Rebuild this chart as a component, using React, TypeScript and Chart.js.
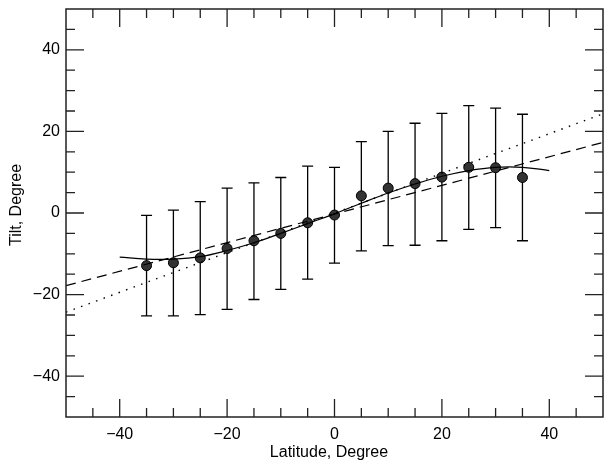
import React, { useEffect, useRef } from "react";
import { Chart, registerables } from "chart.js";

Chart.register(...registerables);

// ---- Data ----
const LATITUDES = [-35, -30, -25, -20, -15, -10, -5, 0, 5, 10, 15, 20, 25, 30, 35];
const TILTS = [-12.9, -12.2, -11.0, -8.7, -6.8, -5.0, -2.4, -0.5, 4.2, 6.1, 7.2, 8.8, 11.2, 11.1, 8.7];
const ERR_HIGH = [-0.6, 0.7, 2.8, 6.1, 7.4, 8.7, 11.5, 11.2, 17.5, 20.0, 22.0, 24.4, 26.3, 25.7, 24.2];
const ERR_LOW = [-25.2, -25.2, -24.9, -23.6, -21.2, -18.7, -16.2, -12.3, -9.3, -8.0, -7.9, -6.8, -4.0, -3.6, -6.8];

const CURVE_X = [-40, -35, -30, -25, -20, -15, -10, -5, 0, 5, 10, 15, 20, 25, 30, 35, 40];
const CURVE_Y = [-10.8, -11.3, -11.3, -10.7, -9.2, -7.3, -5.0, -2.6, -0.2, 2.4, 4.9, 7.1, 9.0, 10.4, 11.2, 11.2, 10.4];

const DASHED_X = [-50, 50];
const DASHED_Y = [-17.8, 17.3];
const DOTTED_X = [-50, 50];
const DOTTED_Y = [-24.3, 24.3];

const X_MAJOR = [-40, -20, 0, 20, 40];
const X_MINOR = [-45, -35, -30, -25, -15, -10, -5, 5, 10, 15, 25, 30, 35, 45];
const Y_MAJOR = [-40, -20, 0, 20, 40];
const Y_MINOR = [-45, -35, -30, -25, -15, -10, -5, 5, 10, 15, 25, 30, 35, 45];

const X_TITLE = "Latitude, Degree";
const Y_TITLE = "Tilt, Degree";

const FONT_FAMILY = "'Liberation Sans', Arial, Helvetica, sans-serif";
const AXIS_COLOR = "#222";

const fmt = (v: number) => (v < 0 ? "\u2212" + Math.abs(v) : String(v));

const pairs = (xs: number[], ys: number[]) => xs.map((x, i) => ({ x, y: ys[i] }));

const zeroPad = (s: any) => {
  s.paddingTop = 0;
  s.paddingBottom = 0;
  s.paddingLeft = 0;
  s.paddingRight = 0;
};

const decorPlugin = {
  id: "decor",
  beforeDatasetsDraw(chart: any) {
    const { ctx, scales } = chart;
    const xs = scales.x;
    const ys = scales.y;
    ctx.save();
    ctx.strokeStyle = "#000";
    ctx.lineWidth = 1.3;
    const cap = 5.5;
    LATITUDES.forEach((lat, i) => {
      const px = xs.getPixelForValue(lat);
      const top = ys.getPixelForValue(ERR_HIGH[i]);
      const bot = ys.getPixelForValue(ERR_LOW[i]);
      ctx.beginPath();
      ctx.moveTo(px, top);
      ctx.lineTo(px, bot);
      ctx.moveTo(px - cap, top);
      ctx.lineTo(px + cap, top);
      ctx.moveTo(px - cap, bot);
      ctx.lineTo(px + cap, bot);
      ctx.stroke();
    });
    ctx.restore();
  },
  afterDraw(chart: any) {
    const { ctx, chartArea, scales } = chart;
    const { left, right, top, bottom } = chartArea;
    const xs = scales.x;
    const ys = scales.y;
    ctx.save();
    ctx.strokeStyle = AXIS_COLOR;
    ctx.lineWidth = 1.5;
    ctx.strokeRect(left, top, right - left, bottom - top);
    ctx.lineWidth = 1.3;
    const major = 18;
    const minor = 9;
    ctx.beginPath();
    const xt = (vals: number[], len: number) => {
      vals.forEach((v) => {
        const p = xs.getPixelForValue(v);
        ctx.moveTo(p, bottom);
        ctx.lineTo(p, bottom - len);
        ctx.moveTo(p, top);
        ctx.lineTo(p, top + len);
      });
    };
    const yt = (vals: number[], len: number) => {
      vals.forEach((v) => {
        const p = ys.getPixelForValue(v);
        ctx.moveTo(left, p);
        ctx.lineTo(left + len, p);
        ctx.moveTo(right, p);
        ctx.lineTo(right - len, p);
      });
    };
    xt(X_MAJOR, major);
    xt(X_MINOR, minor);
    yt(Y_MAJOR, major);
    yt(Y_MINOR, minor);
    ctx.stroke();

    // Axis titles
    ctx.fillStyle = "#000";
    ctx.font = `16px ${FONT_FAMILY}`;
    ctx.textAlign = "center";
    ctx.textBaseline = "alphabetic";
    ctx.fillText(X_TITLE, 329, 457);
    ctx.translate(21, 205);
    ctx.rotate(-Math.PI / 2);
    ctx.fillText(Y_TITLE, 0, 0);
    ctx.restore();
  },
};

export default function App() {
  const ref = useRef<HTMLCanvasElement | null>(null);

  useEffect(() => {
    if (!ref.current) return;
    const chart = new Chart(ref.current, {
      type: "scatter",
      data: {
        datasets: [
          {
            label: "dotted",
            data: pairs(DOTTED_X, DOTTED_Y),
            showLine: true,
            borderColor: "#000",
            borderWidth: 1.4,
            borderDash: [1.5, 6.5],
            pointRadius: 0,
            fill: false,
          },
          {
            label: "dashed",
            data: pairs(DASHED_X, DASHED_Y),
            showLine: true,
            borderColor: "#000",
            borderWidth: 1.2,
            borderDash: [10, 6],
            pointRadius: 0,
            fill: false,
          },
          {
            label: "curve",
            data: pairs(CURVE_X, CURVE_Y),
            showLine: true,
            borderColor: "#000",
            borderWidth: 1.2,
            tension: 0.4,
            pointRadius: 0,
            fill: false,
          },
          {
            label: "tilt",
            data: pairs(LATITUDES, TILTS),
            showLine: false,
            pointRadius: 5,
            pointBackgroundColor: "#333",
            pointBorderColor: "#000",
            pointBorderWidth: 1,
          },
        ],
      },
      options: {
        responsive: false,
        animation: false,
        events: [],
        layout: { autoPadding: false, padding: { top: 9, right: 1, left: 0, bottom: 0 } },
        plugins: {
          legend: { display: false },
          tooltip: { enabled: false },
        },
        scales: {
          x: {
            type: "linear",
            min: -50,
            max: 50,
            grid: { display: false, drawTicks: false },
            border: { display: false },
            afterBuildTicks: (s: any) => {
              s.ticks = X_MAJOR.map((v) => ({ value: v }));
            },
            afterFit: (s: any) => {
              s.height = 46;
              zeroPad(s);
            },
            ticks: {
              padding: 8,
              maxRotation: 0,
              autoSkip: false,
              color: "#000",
              font: { family: FONT_FAMILY, size: 16 },
              callback: (v: any) => fmt(Number(v)),
            },
          },
          y: {
            type: "linear",
            min: -50,
            max: 50,
            grid: { display: false, drawTicks: false },
            border: { display: false },
            afterBuildTicks: (s: any) => {
              s.ticks = Y_MAJOR.map((v) => ({ value: v }));
            },
            afterFit: (s: any) => {
              s.width = 66;
              zeroPad(s);
            },
            ticks: {
              padding: 6,
              autoSkip: false,
              color: "#000",
              font: { family: FONT_FAMILY, size: 16 },
              callback: (v: any) => fmt(Number(v)),
            },
          },
        },
      },
      plugins: [decorPlugin],
    });
    return () => chart.destroy();
  }, []);

  return (
    <div style={{ position: "fixed", left: 0, top: 0, width: 604, height: 463, background: "#fff" }}>
      <canvas ref={ref} width={604} height={463} style={{ display: "block" }} />
    </div>
  );
}
